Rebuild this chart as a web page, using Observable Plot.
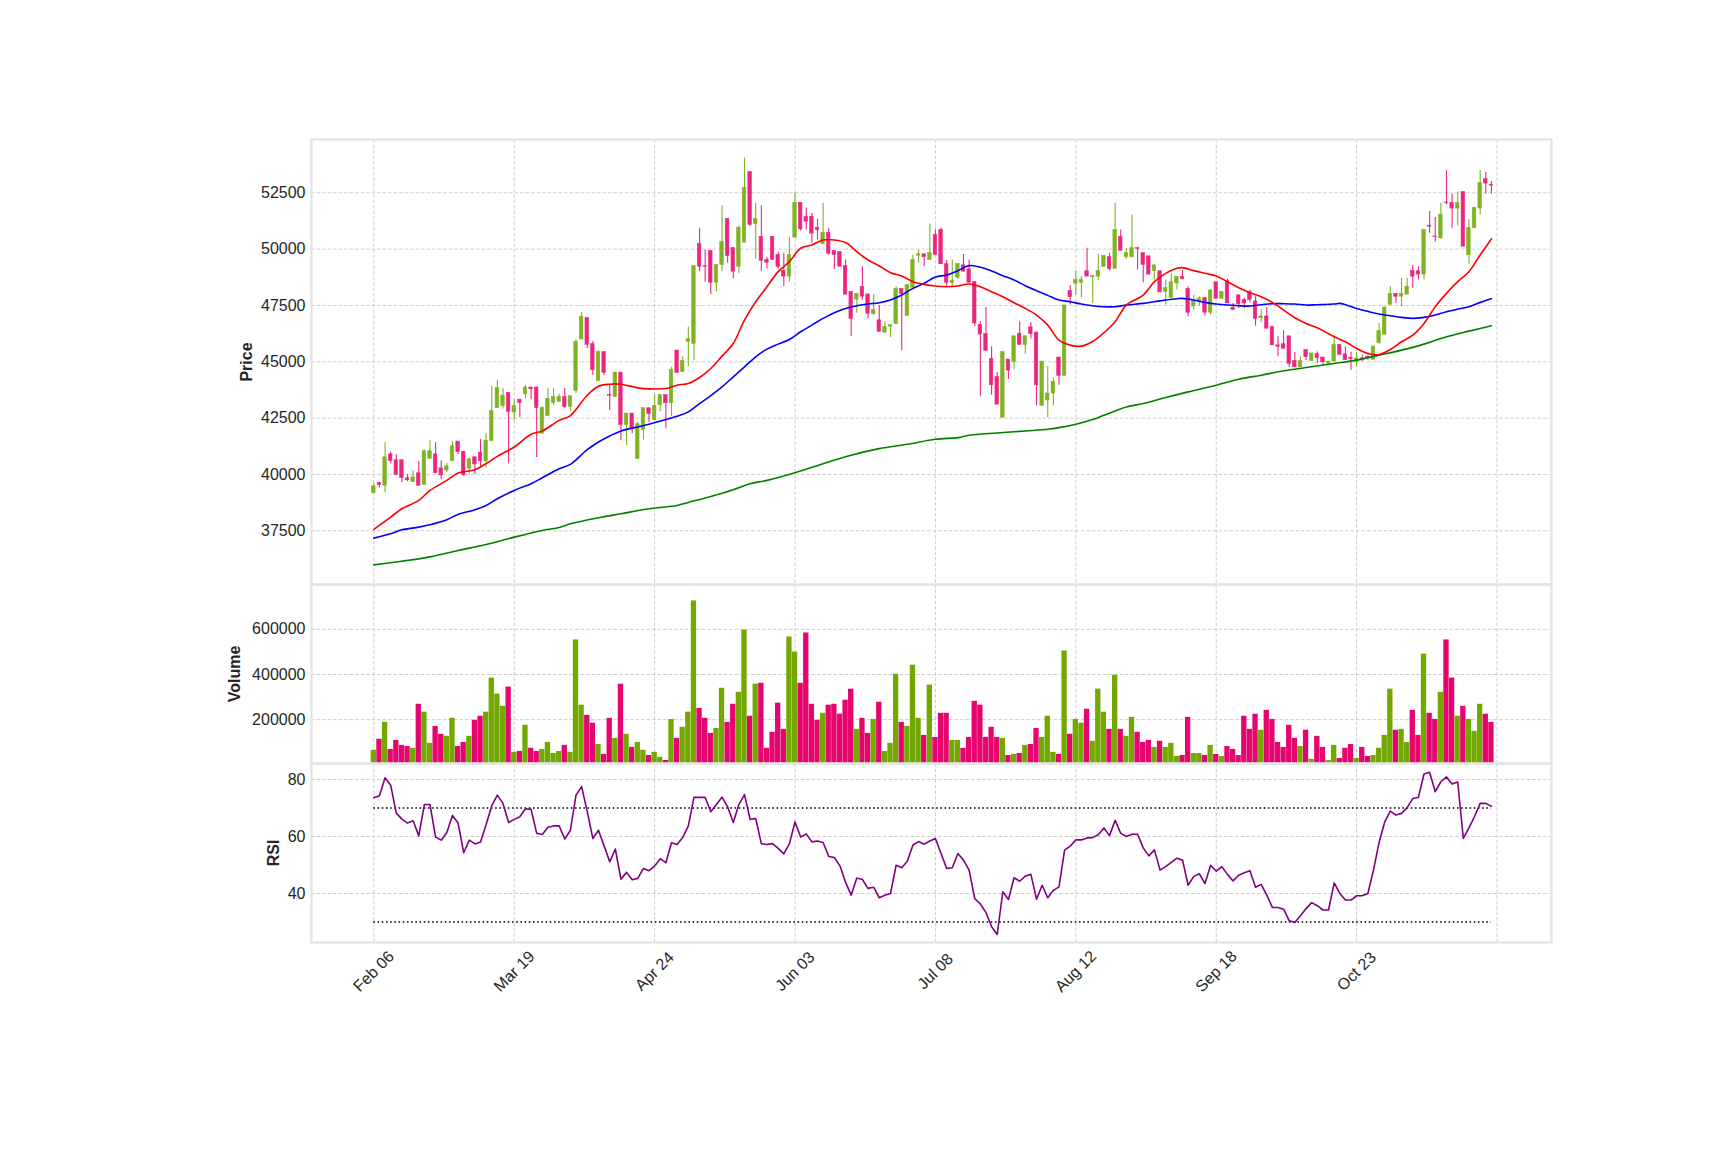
<!DOCTYPE html>
<html><head><meta charset="utf-8">
<script src="https://cdn.jsdelivr.net/npm/d3@7"></script>
<script src="https://cdn.jsdelivr.net/npm/@observablehq/plot@0.6"></script>
<style>
html,body{margin:0;padding:0;background:#fff;}
#chart{position:relative;width:1725px;height:1150px;overflow:hidden;}
#chart svg{position:absolute;left:0;}
</style></head><body><div id="chart"></div>
<script>
const tickIdx = [0,25,50,75,100,125,150,175,200];
const tickLabels = ["Feb 06","Mar 19","Apr 24","Jun 03","Jul 08","Aug 12","Sep 18","Oct 23"];
const priceTicks = [37500,40000,42500,45000,47500,50000,52500];
const volTicks = [200000,400000,600000];
const rsiTicks = [40,60,80];
const rsiLevels = [30,70];

const openP = [39175,39620,39500,40890,40630,40630,39830,39660,40050,39530,
40690,40890,40270,40180,40600,41460,41010,40260,40760,40970,
40580,41490,42950,43030,43610,42750,43320,43560,43860,43860,
41810,42600,43180,43220,43430,43000,43710,45990,46940,45780,
44150,45430,43520,43440,44520,42200,42700,40690,41980,42940,
42410,43070,43520,43160,45500,44550,45890,45800,50230,49240,
49920,48510,49300,51340,50050,49220,50290,53420,51110,50540,
49520,50540,49740,49030,48780,50510,52050,51430,51430,50940,
50220,50720,49920,49870,49250,48100,47760,48320,47990,47130,
46840,46300,46560,46670,48230,47040,48290,49710,49770,49520,
50630,50850,49330,48500,48730,49280,49100,48540,46630,46230,
45120,44320,42520,45100,45000,46230,45750,46530,46300,43040,
43290,43590,45190,44380,48140,48470,48510,49020,48750,48780,
49210,49640,49130,50530,49640,49640,50050,49820,49680,49020,
49020,48110,47840,48480,48760,48230,47460,47680,47830,47180,
48530,47800,48590,47400,47950,47740,48100,47680,46930,47010,
46540,45730,45780,46130,45030,44760,45520,45030,45340,45190,
44920,45010,45740,45330,45180,45000,45150,45210,45090,45840,
46200,47530,48010,47890,47980,49030,49020,48870,51030,50560,
50480,52070,52040,51800,52530,49730,50930,51800,53110,52850];
const highP = [39590,39660,41410,41000,40880,40630,40000,40150,40570,41100,
41500,41410,40610,40490,41460,41460,41010,40730,40760,41550,
41810,43920,44180,43810,43610,43320,43320,43950,43860,43860,
43000,43810,43810,43560,43810,43470,45990,47190,46940,45900,
45490,45430,43960,44520,44520,42700,42700,42330,42940,42940,
43530,43520,43520,44760,45500,45220,46530,49250,50930,49960,
49920,49300,51920,51340,50050,51030,54040,53420,52040,51920,
49640,50540,49850,49820,50530,52510,52050,51820,51580,51330,
52040,50930,49920,49870,49520,48100,48010,49220,47990,47980,
47500,46780,46630,48330,48230,48410,49740,49960,49770,51110,
50850,50940,49490,49520,49340,49770,49520,48540,46780,47410,
45670,44520,45430,45100,46130,46780,46130,46730,46300,45010,
44780,44270,45190,47500,48390,49030,48780,50040,48810,49770,
49700,49820,52040,50850,50040,51510,50050,49820,49680,49280,
49020,48630,48900,48760,49050,48330,47950,47890,47830,48170,
48530,48100,48660,47590,47950,47830,48190,47890,47330,47410,
46540,46110,46380,46130,45410,45220,45520,45370,45440,45190,
45010,46180,45740,45670,45410,45410,45300,45300,45680,46700,
47410,48330,48010,48700,48700,49270,49220,50850,51670,51400,
52040,53490,52440,52530,52530,51300,51830,53490,53400,53000];
const lowP = [39145,39410,39190,40480,39960,39630,39680,39660,39500,39530,
40690,40030,39770,40090,40600,40880,39915,40000,40000,40300,
40290,41490,42950,42910,40480,42410,42520,43350,43320,40750,
41810,42600,43070,43220,42920,42820,43590,45990,45590,44390,
44150,44390,42840,43440,41500,41280,41810,40690,41530,42290,
42410,42780,42030,42580,44510,44550,44780,45050,49000,48530,
47990,48110,49000,49370,48700,48930,50290,51000,49560,49020,
49120,49490,49120,48330,48530,50510,50810,50850,50260,50410,
50190,49740,49100,49220,47980,46110,47150,47740,46910,47060,
46330,46260,46080,46670,45490,47040,48290,49370,49220,49520,
49740,49330,48330,48330,48660,49000,48510,46550,43470,45490,
43520,43100,42520,44210,44640,45750,45330,46010,43040,43040,
42520,43040,43960,44380,47520,47950,47830,48780,47590,48600,
49210,49020,49130,49930,49550,49640,49070,48510,48870,48630,
48080,47520,47840,48190,48660,47000,47300,47470,47030,47070,
47800,47770,47590,47300,47370,47370,47620,46580,46730,46470,
45730,45220,45580,44750,44760,44760,45050,45030,44920,44810,
44900,45010,45310,45070,44630,44780,45000,45070,45090,45780,
46200,47530,47590,47440,47980,48260,48630,48630,50700,50320,
50440,51960,50930,51030,50110,49340,50930,51510,52450,52450];
const closeP = [39470,39530,40760,40600,39980,39840,39740,39870,39500,41030,
41030,40060,39960,40360,41250,41000,39975,40670,40450,40580,
41500,42810,43830,43500,42780,43030,43180,43860,43780,42950,
42950,43350,43430,43430,43000,43470,45870,46980,45750,44640,
45430,44510,43490,44520,42200,42700,42020,42230,42940,42690,
43030,43520,43160,44640,44510,45030,46010,49250,49220,49210,
48510,49300,50320,49700,49000,50940,52720,51080,51340,49490,
49400,49530,49210,48780,49740,52050,50880,51220,50690,50840,
50720,49800,49740,49220,47980,46910,48010,47890,47130,47300,
46330,46540,46630,48230,48010,48410,49520,49770,49640,49820,
49740,49330,48510,48590,49340,49000,48510,46700,46210,45490,
43960,43100,45430,44610,46130,45750,46130,46240,43960,45010,
43590,44120,44380,47500,47870,48630,48630,48780,48810,49030,
49700,49120,50850,49930,49820,50040,50010,49300,48870,49280,
48080,48270,48530,48760,48660,47180,47680,47810,47180,48170,
47800,48100,47590,47300,47550,47590,47740,46910,47010,46470,
45730,45670,45580,44910,44760,45030,45210,45370,45160,44980,
45010,45740,45310,45070,45120,45150,45100,45180,45680,46360,
47410,48010,47890,48010,48330,48780,48870,50850,51000,50530,
51520,52040,51800,52040,50110,50940,51830,52930,52910,52820];
const volume = [64000,113000,188000,68000,108000,86000,81000,73000,268000,233000,
95000,170000,135000,126000,206000,81000,99000,126000,197000,215000,
233000,384000,313000,259000,344000,55000,59000,175000,73000,59000,
68000,99000,50000,59000,86000,55000,553000,264000,219000,184000,
90000,46000,206000,117000,357000,135000,77000,99000,64000,41000,
55000,33000,19000,201000,117000,166000,233000,726000,250000,206000,
139000,161000,339000,188000,268000,321000,597000,215000,357000,361000,
73000,144000,273000,157000,566000,499000,361000,584000,268000,197000,
228000,264000,268000,224000,286000,335000,157000,206000,139000,201000,
277000,59000,95000,401000,188000,170000,441000,206000,130000,353000,
121000,228000,228000,108000,108000,73000,121000,281000,264000,121000,
166000,121000,117000,41000,46000,50000,86000,90000,161000,121000,
215000,55000,46000,504000,135000,201000,184000,246000,104000,335000,
233000,157000,397000,157000,126000,210000,144000,99000,108000,77000,
104000,77000,95000,37000,41000,210000,50000,50000,41000,86000,
46000,37000,81000,68000,41000,215000,157000,224000,153000,241000,
201000,99000,77000,175000,117000,81000,153000,24000,126000,77000,
19000,86000,28000,73000,90000,28000,77000,37000,41000,73000,
130000,335000,153000,157000,99000,241000,130000,490000,228000,201000,
321000,553000,384000,215000,259000,201000,148000,268000,224000,188000];
const rsi = [73.6,74.3,80.6,78.0,68.2,66.1,64.7,65.5,60.2,71.2,
71.2,59.8,58.7,61.4,67.4,64.7,54.3,58.7,57.4,58.1,
64.2,70.8,74.5,71.6,64.9,66.0,66.9,69.7,69.5,61.1,
60.7,63.2,63.7,63.7,59.1,62.2,74.5,77.5,68.7,59.3,
62.2,56.7,51.1,55.6,45.0,47.4,44.8,45.3,48.8,48.0,
49.6,52.2,50.8,57.8,57.2,59.6,63.7,73.7,73.7,73.7,
68.7,71.2,73.8,70.4,64.9,71.2,74.7,66.0,66.3,57.5,
57.2,57.5,55.8,53.9,57.5,65.1,59.8,60.9,58.1,58.4,
57.9,53.0,52.6,49.7,43.9,39.4,45.4,44.9,41.8,42.2,
38.5,39.4,40.0,49.9,49.0,51.3,57.0,58.2,57.3,58.4,
59.3,54.0,48.8,49.0,54.0,51.7,48.2,38.2,36.3,33.3,
28.3,25.6,40.6,37.9,45.5,44.3,46.1,46.7,38.0,42.9,
38.5,41.1,42.3,55.2,56.6,58.8,58.8,59.5,59.6,60.6,
63.0,60.3,65.7,61.1,60.0,60.8,60.8,56.0,53.2,55.3,
48.2,49.4,50.9,52.4,51.7,42.9,46.0,46.9,43.5,49.9,
47.8,49.4,46.7,44.4,46.4,47.3,48.0,42.2,43.2,39.4,
35.1,35.1,34.5,30.4,29.8,32.2,34.7,36.8,35.7,34.2,
34.2,43.7,40.0,37.7,37.7,39.2,39.2,40.0,48.2,57.9,
65.1,68.9,67.5,68.1,70.1,73.3,73.7,81.9,82.5,75.7,
79.2,80.9,78.4,79.1,59.3,63.0,67.0,71.6,71.6,70.6];

const maRed = [[0,37559],[3,38108],[5,38478],[8,38849],[10,39293],[13,39738],[15,40064],[18,40212],[20,40479],[22,40805],[25,41220],[28,41783],[30,41931],[33,42400],[35,42613],[38,43517],[40,43917],[42,44006],[44,44006],[47,43843],[49,43799],[52,43813],[54,43962],[56,44036],[58,44302],[60,44703],[62,45251],[64,45814],[66,46851],[68,47667],[70,48333],[72,49000],[74,49445],[76,50038],[78,50186],[80,50408],[82,50408],[84,50290],[86,49890],[88,49519],[90,49252],[92,48956],[94,48808],[96,48556],[98,48437],[100,48363],[102,48333],[104,48363],[106,48452],[108,48333],[110,48111],[112,47889],[114,47622],[116,47370],[118,47074],[120,46629],[122,45962],[124,45740],[126,45695],[128,45903],[130,46289],[132,46777],[134,47518],[137,47963],[139,48556],[141,48926],[143,49149],[144,49178],[146,49045],[148,48926],[150,48808],[152,48556],[154,48289],[156,48067],[158,47889],[160,47637],[162,47296],[164,46955],[166,46703],[168,46511],[171,46110],[173,45888],[175,45592],[177,45369],[179,45325],[181,45547],[183,45888],[185,46185],[187,46703],[189,47444],[191,48037],[193,48556],[195,49000],[197,49741],[199,50453]];
const maBlue = [[0,37174],[3,37367],[5,37544],[8,37663],[10,37767],[13,37989],[15,38226],[18,38434],[20,38626],[22,38923],[25,39293],[28,39590],[30,39856],[33,40257],[35,40449],[38,41101],[40,41442],[42,41709],[44,41931],[47,42109],[49,42228],[52,42435],[54,42583],[56,42776],[58,43146],[60,43502],[62,43887],[64,44332],[66,44777],[68,45221],[70,45562],[72,45784],[74,45992],[76,46333],[78,46629],[80,46926],[82,47178],[84,47370],[86,47489],[88,47563],[90,47622],[92,47741],[94,47963],[96,48259],[98,48482],[100,48763],[102,48852],[104,49045],[106,49267],[108,49193],[110,49030],[112,48823],[114,48630],[116,48378],[118,48156],[120,47948],[122,47741],[124,47667],[126,47563],[128,47489],[130,47444],[132,47444],[134,47518],[137,47592],[139,47667],[141,47741],[143,47800],[144,47815],[146,47741],[148,47637],[150,47563],[152,47518],[154,47489],[156,47474],[158,47533],[160,47578],[162,47578],[164,47563],[166,47518],[168,47533],[171,47563],[172,47592],[173,47533],[175,47370],[177,47237],[179,47118],[181,47044],[183,46970],[185,46926],[187,46970],[189,47074],[191,47222],[193,47340],[195,47444],[197,47637],[199,47800]];
const maGreen = [[0,35988],[5,36151],[10,36344],[15,36626],[20,36892],[25,37219],[30,37515],[33,37648],[35,37811],[40,38078],[44,38256],[49,38478],[54,38626],[56,38760],[60,39026],[64,39323],[67,39590],[70,39738],[75,40079],[80,40479],[85,40849],[90,41146],[95,41338],[100,41561],[104,41635],[106,41739],[111,41842],[116,41931],[120,42005],[122,42079],[125,42228],[128,42435],[130,42628],[132,42820],[134,42998],[137,43146],[141,43413],[145,43665],[150,43961],[154,44228],[158,44406],[162,44599],[166,44747],[171,44925],[175,45073],[179,45295],[183,45518],[187,45784],[191,46110],[195,46362],[199,46599]];

const UP = "#72a800", DOWN = "#e6056e";
const UPC = "#80b322", DOWNC = "#ec2680";
const candles = openP.map((o, i) => ({i, o, h: highP[i], l: lowP[i], c: closeP[i], v: volume[i], r: rsi[i], up: closeP[i] >= o}));

const W = 1725, ML = 311, MR = 174;
const xDomain = [-11.1, 209.7];
const font = "'Liberation Sans', Arial, 'DejaVu Sans', sans-serif";
const style = {fontFamily: font, fontSize: "16px", color: "#262626", background: "transparent", overflow: "visible"};
const gridStyle = {stroke: "#cfcfcf", strokeWidth: 1, strokeDasharray: "3.7,1.8"};
const frameStyle = {stroke: "#e3e3e3", strokeWidth: 2.2};
const fmt = d => String(d);
const labelStyle = {frameAnchor: "left", rotate: -90, textAnchor: "middle", lineAnchor: "middle", text: d => d, fontWeight: "bold", fontSize: 16, fill: "#262626"};

const chart = document.getElementById("chart");
function place(svg, top) { svg.style.top = top + "px"; chart.appendChild(svg); }

// Price panel
const pricePlot = Plot.plot({
  width: W, height: 584, marginTop: 139, marginBottom: 0, marginLeft: ML, marginRight: MR,
  style,
  x: {domain: xDomain, axis: null},
  y: {domain: [35117, 54865], axis: null},
  color: {type: "identity"},
  marks: [
    Plot.ruleX(tickIdx, {x: d => d, ...gridStyle}),
    Plot.ruleY(priceTicks, {y: d => d, ...gridStyle}),
    Plot.axisY(priceTicks, {tickSize: 0, tickPadding: 6, tickFormat: fmt, fontSize: 16, fill: "#262626", label: null}),
    Plot.ruleX(candles, {x: "i", y1: "l", y2: "h", stroke: d => d.up ? UPC : DOWNC, strokeWidth: 1.1}),
    Plot.rect(candles, {x1: d => d.i - 0.31, x2: d => d.i + 0.31, y1: "o", y2: "c", fill: d => d.up ? UPC : DOWNC, stroke: d => d.up ? UPC : DOWNC, strokeWidth: 0.6}),
    Plot.line(maGreen, {x: d => d[0], y: d => d[1], stroke: "green", strokeWidth: 1.6, curve: "catmull-rom"}),
    Plot.line(maBlue, {x: d => d[0], y: d => d[1], stroke: "blue", strokeWidth: 1.6, curve: "catmull-rom"}),
    Plot.line(maRed, {x: d => d[0], y: d => d[1], stroke: "red", strokeWidth: 1.6, curve: "catmull-rom"}),
    Plot.text(["Price"], {...labelStyle, dx: -65}),
    Plot.frame(frameStyle)
  ]
});
place(pricePlot, 0);

// Volume panel
const vMin = d3.min(volume) * 0.3, vMax = d3.max(volume) * 1.1;
const volPlot = Plot.plot({
  width: W, height: 179, marginTop: 0, marginBottom: 0, marginLeft: ML, marginRight: MR,
  style,
  x: {domain: xDomain, axis: null},
  y: {domain: [vMin, vMax], axis: null},
  color: {type: "identity"},
  marks: [
    Plot.ruleX(tickIdx, {x: d => d, ...gridStyle}),
    Plot.ruleY(volTicks, {y: d => d, ...gridStyle}),
    Plot.axisY(volTicks, {tickSize: 0, tickPadding: 6, tickFormat: fmt, fontSize: 16, fill: "#262626", label: null}),
    Plot.rect(candles, {x1: d => d.i - 0.5, x2: d => d.i + 0.5, y1: vMin, y2: "v", fill: d => d.up ? UP : DOWN, insetLeft: 0.15, insetRight: 0.15}),
    Plot.text(["Volume"], {...labelStyle, dx: -77}),
    Plot.frame(frameStyle)
  ]
});
place(volPlot, 584);

// RSI panel
const rsiPlot = Plot.plot({
  width: W, height: 387, marginTop: 0, marginBottom: 208, marginLeft: ML, marginRight: MR,
  style,
  x: {domain: xDomain, axis: null},
  y: {domain: [22.8, 85.6], axis: null},
  color: {type: "identity"},
  marks: [
    Plot.ruleX(tickIdx, {x: d => d, ...gridStyle}),
    Plot.ruleY(rsiTicks, {y: d => d, ...gridStyle}),
    Plot.axisY(rsiTicks, {tickSize: 0, tickPadding: 6, tickFormat: fmt, fontSize: 16, fill: "#262626", label: null}),
    Plot.ruleY(rsiLevels, {y: d => d, x1: candles[0].i, x2: candles[candles.length - 1].i, stroke: "black", strokeWidth: 1.6, strokeDasharray: "1.6,2.6"}),
    Plot.line(candles, {x: "i", y: "r", stroke: "purple", strokeWidth: 1.6}),
    Plot.text(tickIdx.slice(0, tickLabels.length), {x: d => d, text: (d, k) => tickLabels[k], frameAnchor: "bottom", dy: 29, rotate: -45, textAnchor: "middle", lineAnchor: "middle", fontSize: 16, fill: "#262626"}),
    Plot.text(["RSI"], {...labelStyle, dx: -38}),
    Plot.frame(frameStyle)
  ]
});
place(rsiPlot, 763);
</script>
</body></html>
